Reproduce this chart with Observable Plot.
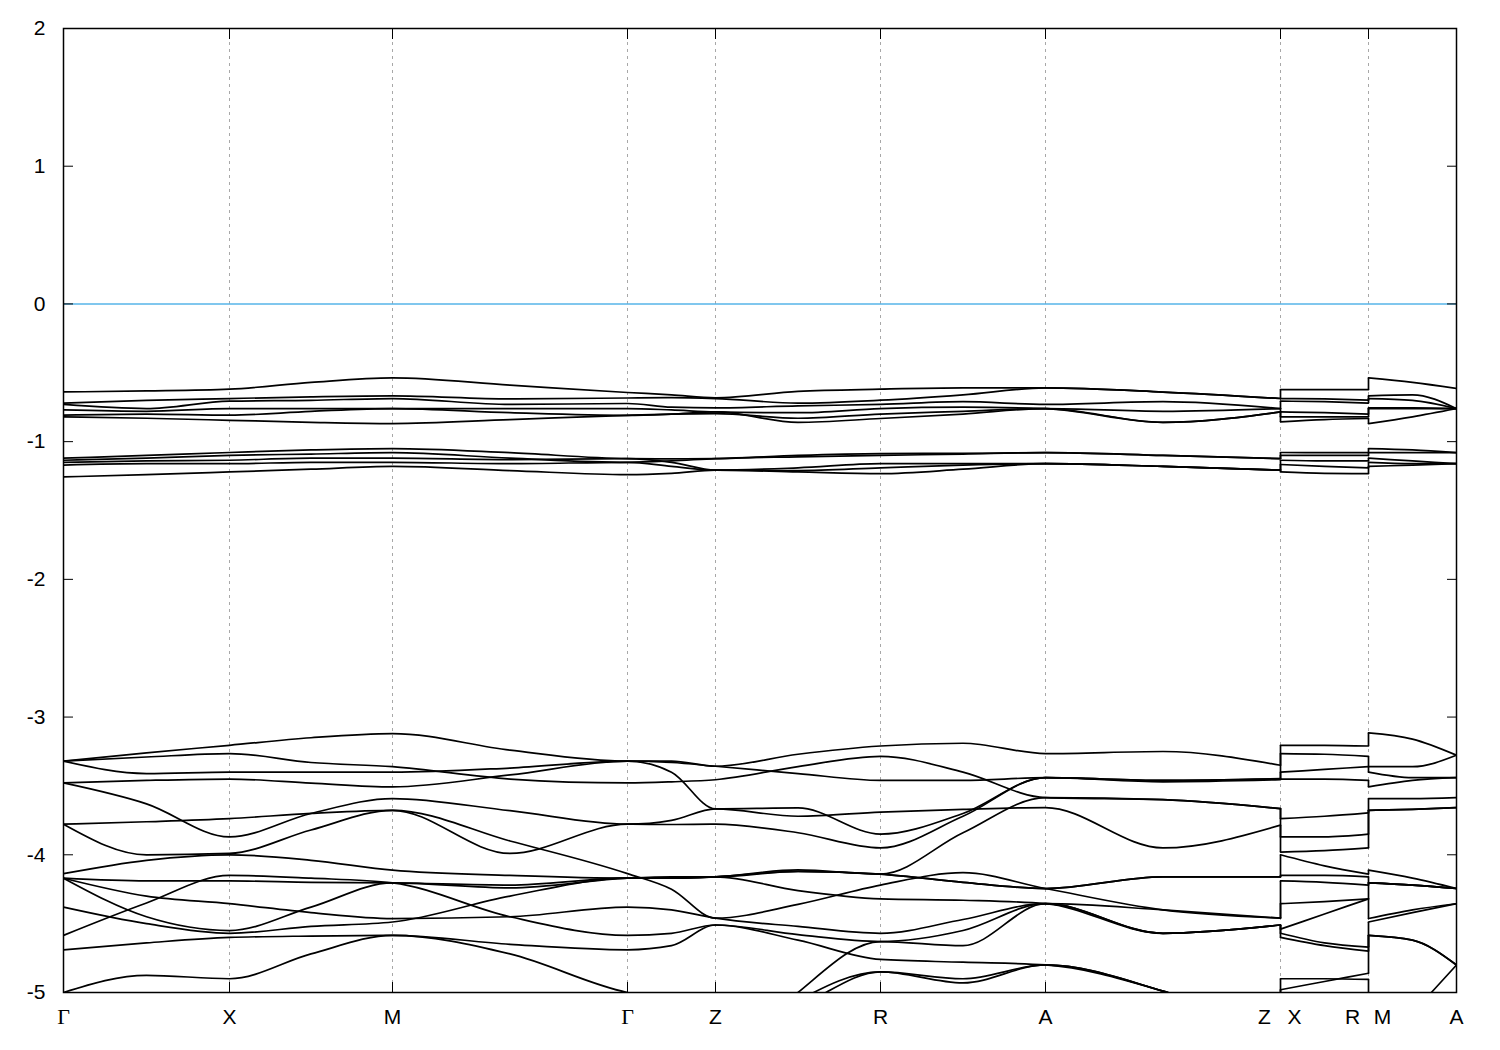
<!DOCTYPE html>
<html><head><meta charset="utf-8">
<script src="https://cdn.jsdelivr.net/npm/d3@7"></script>
<script src="https://cdn.jsdelivr.net/npm/@observablehq/plot@0.6"></script>
<style>body{margin:0;background:#fff}</style>
</head><body><div id="chart"></div>
<script>
// k-path sample positions (Γ X M Γ Z R A Z | X R | M A), with midpoints
const kPath = [0, 0.83, 1.66, 2.475, 3.29, 4.465, 5.64, 6.08, 6.52, 7.345, 8.17, 8.995, 9.82, 10.995, 12.17, 12.17, 12.61, 13.05, 13.05, 13.49, 13.93];
const tickK = [0, 1.66, 3.29, 5.64, 6.52, 8.17, 9.82, 12.17, 13.05, 13.93];
const tickLabel = ["Γ", "X", "M", "Γ", "Z", "R", "A", "Z|X", "R|M", "A"];
const yTicks = [-5, -4, -3, -2, -1, 0, 1, 2];

// energies (eV) at each kPath sample
const u1 = [-0.639,-0.632,-0.619,-0.57,-0.537,-0.59,-0.643,-0.66,-0.682,-0.635,-0.619,-0.61,-0.61,-0.64,-0.687,-0.622,-0.622,-0.622,-0.537,-0.57,-0.614];
const u2 = [-0.72,-0.70,-0.687,-0.675,-0.668,-0.69,-0.683,-0.68,-0.687,-0.72,-0.699,-0.66,-0.61,-0.64,-0.687,-0.687,-0.69,-0.699,-0.668,-0.66,-0.76];
const u3 = [-0.73,-0.76,-0.706,-0.70,-0.687,-0.73,-0.723,-0.75,-0.755,-0.74,-0.73,-0.71,-0.73,-0.71,-0.76,-0.706,-0.71,-0.72,-0.687,-0.70,-0.76];
const u4 = [-0.77,-0.78,-0.76,-0.76,-0.76,-0.76,-0.76,-0.77,-0.784,-0.79,-0.76,-0.75,-0.76,-0.86,-0.784,-0.784,-0.79,-0.80,-0.755,-0.755,-0.76];
const u5 = [-0.808,-0.80,-0.808,-0.78,-0.76,-0.79,-0.809,-0.80,-0.784,-0.86,-0.832,-0.80,-0.76,-0.78,-0.76,-0.82,-0.82,-0.82,-0.76,-0.76,-0.76];
const u6 = [-0.82,-0.83,-0.845,-0.86,-0.869,-0.84,-0.809,-0.80,-0.796,-0.83,-0.80,-0.78,-0.76,-0.86,-0.784,-0.856,-0.84,-0.832,-0.869,-0.82,-0.76];
const v1 = [-1.12,-1.10,-1.079,-1.06,-1.05,-1.08,-1.123,-1.125,-1.123,-1.10,-1.087,-1.085,-1.08,-1.10,-1.123,-1.079,-1.08,-1.08,-1.05,-1.06,-1.08];
const v2 = [-1.135,-1.12,-1.10,-1.09,-1.08,-1.12,-1.15,-1.14,-1.123,-1.11,-1.10,-1.09,-1.08,-1.10,-1.123,-1.10,-1.10,-1.10,-1.08,-1.08,-1.08];
const v3 = [-1.15,-1.14,-1.135,-1.12,-1.12,-1.13,-1.123,-1.15,-1.207,-1.19,-1.16,-1.16,-1.16,-1.18,-1.207,-1.135,-1.14,-1.14,-1.12,-1.14,-1.16];
const v4 = [-1.17,-1.16,-1.16,-1.15,-1.15,-1.16,-1.15,-1.18,-1.207,-1.21,-1.19,-1.17,-1.16,-1.18,-1.207,-1.166,-1.18,-1.19,-1.15,-1.16,-1.16];
const v5 = [-1.256,-1.24,-1.22,-1.20,-1.18,-1.21,-1.24,-1.23,-1.207,-1.22,-1.232,-1.20,-1.16,-1.18,-1.207,-1.22,-1.23,-1.232,-1.18,-1.17,-1.16];

const l1 = [-3.32,-3.26,-3.205,-3.15,-3.12,-3.24,-3.32,-3.32,-3.357,-3.27,-3.21,-3.19,-3.265,-3.25,-3.35,-3.205,-3.205,-3.21,-3.115,-3.16,-3.277];
const l2 = [-3.32,-3.29,-3.265,-3.33,-3.36,-3.45,-3.478,-3.47,-3.455,-3.36,-3.285,-3.40,-3.585,-3.60,-3.665,-3.265,-3.27,-3.285,-3.36,-3.36,-3.277];
const l3 = [-3.32,-3.41,-3.40,-3.40,-3.40,-3.37,-3.32,-3.33,-3.357,-3.41,-3.46,-3.46,-3.44,-3.46,-3.447,-3.40,-3.38,-3.36,-3.40,-3.44,-3.44];
const l4 = [-3.478,-3.63,-3.87,-3.70,-3.592,-3.68,-3.778,-3.75,-3.667,-3.72,-3.69,-3.67,-3.657,-3.95,-3.785,-3.87,-3.87,-3.85,-3.592,-3.592,-3.585];
const l5 = [-3.478,-3.46,-3.45,-3.48,-3.507,-3.42,-3.32,-3.40,-3.667,-3.66,-3.85,-3.70,-3.44,-3.47,-3.455,-3.45,-3.45,-3.46,-3.507,-3.46,-3.44];
const l6 = [-3.778,-3.76,-3.737,-3.70,-3.677,-3.99,-3.778,-3.78,-3.778,-3.84,-3.95,-3.72,-3.44,-3.46,-3.45,-3.737,-3.72,-3.695,-3.677,-3.67,-3.657];
const l7 = [-3.778,-4.0,-3.99,-3.82,-3.677,-3.90,-4.137,-4.25,-4.46,-4.36,-4.22,-4.13,-4.245,-4.40,-4.46,-3.98,-3.97,-3.95,-3.677,-3.67,-3.657];
const l8 = [-4.137,-4.04,-4.00,-4.04,-4.112,-4.15,-4.17,-4.17,-4.16,-4.11,-4.14,-3.84,-3.585,-3.60,-3.665,-4.00,-4.08,-4.14,-4.112,-4.17,-4.245];
const l9 = [-4.17,-4.19,-4.19,-4.20,-4.204,-4.22,-4.17,-4.17,-4.16,-4.26,-4.32,-4.33,-4.355,-4.57,-4.51,-4.19,-4.20,-4.22,-4.204,-4.22,-4.245];
const l10 = [-4.17,-4.30,-4.355,-4.42,-4.463,-4.45,-4.38,-4.40,-4.46,-4.52,-4.57,-4.47,-4.355,-4.40,-4.46,-4.355,-4.34,-4.32,-4.463,-4.40,-4.355];
const l11 = [-4.17,-4.45,-4.55,-4.38,-4.204,-4.24,-4.17,-4.16,-4.16,-4.12,-4.14,-4.20,-4.245,-4.16,-4.16,-4.54,-4.43,-4.32,-4.204,-4.22,-4.245];
const l12 = [-4.585,-4.35,-4.15,-4.17,-4.204,-4.45,-4.585,-4.57,-4.51,-4.62,-4.76,-4.78,-4.80,-4.99,-5.3,-4.15,-4.15,-4.16,-4.204,-4.22,-4.245];
const l13 = [-4.69,-4.64,-4.60,-4.59,-4.585,-4.65,-4.69,-4.66,-4.51,-4.58,-4.63,-4.55,-4.355,-4.57,-4.51,-4.60,-4.66,-4.70,-4.585,-4.62,-4.80];
const l14 = [-5.0,-4.875,-4.90,-4.72,-4.585,-4.72,-5.0,-5.05,-5.3,-5.1,-4.85,-4.93,-4.80,-4.99,-5.3,-4.90,-4.90,-4.905,-4.585,-4.62,-4.80];
const l15 = [-5.3,-5.3,-5.3,-5.3,-5.3,-5.3,-5.3,-5.4,-5.6,-5.0,-4.63,-4.66,-4.355,-4.57,-4.51,-4.98,-4.92,-4.86,-5.5,-5.15,-4.80];
const l16 = [-5.3,-5.3,-5.3,-5.3,-5.3,-5.3,-5.3,-5.4,-5.5,-5.06,-4.85,-4.90,-4.80,-4.99,-5.3,-5.3,-5.3,-5.3,-5.5,-5.3,-5.3];
const l17 = [-4.38,-4.50,-4.57,-4.52,-4.488,-4.30,-4.17,-4.17,-4.16,-4.12,-4.14,-4.20,-4.245,-4.16,-4.16,-4.57,-4.64,-4.67,-4.488,-4.42,-4.355];

const bands = [u1,u2,u3,u4,u5,u6,v1,v2,v3,v4,v5,l1,l2,l3,l4,l5,l6,l7,l8,l9,l10,l11,l12,l13,l14,l15,l16,l17];

const rows = [];
bands.forEach((b, i) => b.forEach((e, j) => rows.push({band: i, piece: j <= 14 ? 0 : (j <= 17 ? 1 : 2), k: kPath[j], e})));

// path discontinuities: bands are joined by energy order, as in the band file
const jumps = [];
[[14, 15], [17, 18]].forEach(([a, b]) => {
  const from = bands.map(d => d[a]).sort(d3.ascending);
  const to = bands.map(d => d[b]).sort(d3.ascending);
  from.forEach((e, i) => jumps.push({k: kPath[a], e1: e, e2: to[i]}));
});

const ticks = tickK.map((k, i) => ({k, label: tickLabel[i]}));
const gammaLabels = ticks.filter(d => d.label === "Γ");
const plainLabels = ticks.filter(d => d.label !== "Γ" && !d.label.includes("|"));
const joinLeft = ticks.filter(d => d.label.includes("|")).map(d => ({k: d.k, label: d.label.split("|")[0]}));
const joinRight = ticks.filter(d => d.label.includes("|")).map(d => ({k: d.k, label: d.label.split("|")[1]}));
const innerTicks = tickK.slice(1, -1);

const font = "'Liberation Sans', Arial, Helvetica, sans-serif";

const chart = Plot.plot({
  width: 1500,
  height: 1050,
  marginLeft: 63,
  marginRight: 44,
  marginTop: 28,
  marginBottom: 58,
  x: {domain: [0, 13.93], label: null},
  y: {domain: [-5, 2], label: null},
  style: {fontFamily: font, fontSize: "20px", background: "white", color: "black"},
  marks: [
    Plot.ruleX(innerTicks, {stroke: "#a8a8a8", strokeWidth: 1, strokeDasharray: "3,4"}),
    Plot.ruleY([0], {stroke: "#56b4e9", strokeWidth: 1.5}),
    Plot.line(rows, {x: "k", y: "e", z: d => d.band * 3 + d.piece, curve: "monotone-x", stroke: "black", strokeWidth: 1.7, clip: true}),
    Plot.link(jumps, {x1: "k", x2: "k", y1: "e1", y2: "e2", stroke: "black", strokeWidth: 1.7, clip: true}),
    Plot.frame({stroke: "black", strokeWidth: 1.5}),
    Plot.axisX(tickK, {anchor: "bottom", tickSize: -10, tickFormat: () => "", label: null}),
    Plot.axisX(tickK, {anchor: "top", tickSize: -10, tickFormat: () => "", label: null}),
    Plot.axisY(yTicks, {anchor: "left", tickSize: -10, tickFormat: () => "", label: null}),
    Plot.axisY(yTicks, {anchor: "right", tickSize: -10, tickFormat: () => "", label: null}),
    Plot.axisY(yTicks, {anchor: "left", tickSize: 0, tickPadding: 18, fontSize: 21, tickFormat: d => String(d), label: null}),
    Plot.text(plainLabels, {x: "k", text: "label", frameAnchor: "bottom", dy: 31, fontSize: 21}),
    Plot.text(joinLeft, {x: "k", text: "label", frameAnchor: "bottom", dy: 31, dx: -16, fontSize: 21}),
    Plot.text(joinRight, {x: "k", text: "label", frameAnchor: "bottom", dy: 31, dx: 14, fontSize: 21}),
    Plot.text(gammaLabels, {x: "k", text: "label", frameAnchor: "bottom", dy: 31, fontSize: 22, fontFamily: "'Liberation Serif', 'DejaVu Serif', serif"})
  ]
});
document.getElementById("chart").appendChild(chart);
</script>
</body></html>
